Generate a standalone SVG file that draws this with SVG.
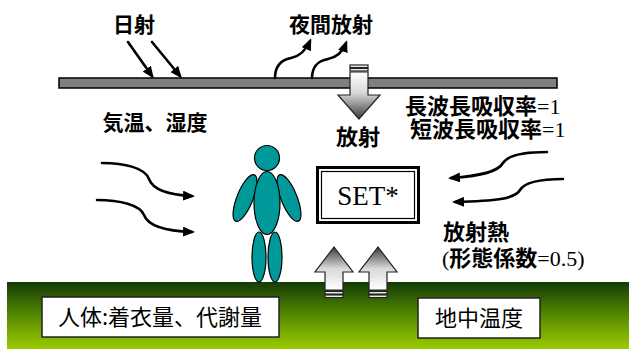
<svg xmlns="http://www.w3.org/2000/svg" width="629" height="349" viewBox="0 0 629 349">
  <style>
    .lbl { font-family: "Noto Sans CJK JP", "Noto Sans", sans-serif; font-weight: bold; fill: #000; }
    .reg { font-family: "Noto Sans CJK JP", "Noto Sans", sans-serif; font-weight: normal; fill: #000; }
    .ser { font-family: "Liberation Serif", "Times New Roman", serif; }
    .flow { fill: none; stroke: #000; stroke-width: 2.6; stroke-linecap: round; marker-end: url(#head); }
    .body { fill: #009999; stroke: #000; stroke-width: 1.2; }
    .box { fill: #fff; stroke: #222; stroke-width: 1.5; }
    .block { stroke: #222; stroke-width: 1.2; }
  </style>
  <defs>
    <marker id="head" markerUnits="userSpaceOnUse" viewBox="0 0 12 10" markerWidth="12" markerHeight="10" refX="9" refY="5" orient="auto">
      <path d="M0,0 L12,5 L0,10 z" fill="#000"/>
    </marker>
    <linearGradient id="ground" x1="0" y1="0" x2="0" y2="1">
      <stop offset="0" stop-color="#143a08"/>
      <stop offset="0.45" stop-color="#4f8300"/>
      <stop offset="1" stop-color="#9acc00"/>
    </linearGradient>
    <linearGradient id="down" x1="0" y1="0" x2="0" y2="1">
      <stop offset="0" stop-color="#ffffff"/>
      <stop offset="0.45" stop-color="#d8d8d8"/>
      <stop offset="1" stop-color="#3a3a3a"/>
    </linearGradient>
    <linearGradient id="up" x1="0" y1="0" x2="0" y2="1">
      <stop offset="0" stop-color="#3a3a3a"/>
      <stop offset="0.5" stop-color="#d8d8d8"/>
      <stop offset="1" stop-color="#ffffff"/>
    </linearGradient>
  </defs>

  <!-- ground -->
  <g id="ground-layer">
    <rect x="7" y="282" width="622" height="67" fill="url(#ground)"/>
  </g>

  <!-- roof plate -->
  <g id="roof">
    <rect x="59" y="78" width="498" height="10" fill="#808080" stroke="#000" stroke-width="1.5"/>
  </g>

  <!-- connectors -->
  <g id="connectors">
    <!-- solar radiation -->
    <path class="flow" d="M128,42 L152,76"/>
    <path class="flow" d="M152,42 L180,76"/>
    <!-- night radiation -->
    <path class="flow" d="M275,78 C275,66 281,60 291,58 C301,56 306,50 310,41"/>
    <path class="flow" d="M312,78 C312,66 318,61 328,59 C338,57 343,51 346,43"/>
    <!-- air temperature / humidity -->
    <path class="flow" d="M102,163 C125,163 145,168 149,179 C153,190 170,195 192,196"/>
    <path class="flow" d="M97,200 C120,200 140,205 144,215 C148,226 165,231 192,232"/>
    <!-- radiant heat -->
    <path class="flow" d="M547,152 C525,152 508,155 503,163 C498,172 480,176 451,178"/>
    <path class="flow" d="M563,179 C540,179 525,182 520,190 C515,199 495,201 455,202"/>
  </g>

  <!-- downward radiation block arrow -->
  <g id="down-arrow" class="block">
    <rect x="350" y="65" width="18" height="2.5" fill="#fff"/>
    <rect x="350" y="68.5" width="18" height="2.5" fill="#fff"/>
    <path d="M350,72 L368,72 L368,95 L380,95 L359,119 L338,95 L350,95 z" fill="url(#down)"/>
  </g>

  <!-- upward ground block arrows -->
  <g id="up-arrow-1" class="block">
    <path d="M325,290 L325,272 L315,272 L334,247 L353,272 L343,272 L343,290 z" fill="url(#up)"/>
    <rect x="325" y="291.5" width="18" height="2.5" fill="#fff"/>
    <rect x="325" y="295" width="18" height="2.5" fill="#fff"/>
  </g>
  <g id="up-arrow-2" class="block">
    <path d="M369,290 L369,272 L359,272 L378,247 L397,272 L387,272 L387,290 z" fill="url(#up)"/>
    <rect x="369" y="291.5" width="18" height="2.5" fill="#fff"/>
    <rect x="369" y="295" width="18" height="2.5" fill="#fff"/>
  </g>

  <!-- text labels -->
  <g id="label-solar"><text class="lbl" x="134" y="32" font-size="21" text-anchor="middle">日射</text></g>
  <g id="label-night"><text class="lbl" x="331" y="32" font-size="21" text-anchor="middle">夜間放射</text></g>
  <g id="label-air"><text class="lbl" x="155" y="130" font-size="21" text-anchor="middle">気温、湿度</text></g>
  <g id="label-rad"><text class="lbl" x="358" y="145" font-size="22" text-anchor="middle">放射</text></g>
  <g id="label-absorb">
    <text class="lbl" x="405" y="114" font-size="22">長波長吸収率<tspan class="ser" font-weight="normal">=1</tspan></text>
    <text class="lbl" x="410" y="137" font-size="22">短波長吸収率<tspan class="ser" font-weight="normal">=1</tspan></text>
  </g>
  <g id="label-heat">
    <text class="lbl" x="443" y="240" font-size="22">放射熱</text>
    <text class="lbl" x="442" y="266" font-size="22"><tspan class="ser" font-weight="normal">(</tspan>形態係数<tspan class="ser" font-weight="normal">=0.5)</tspan></text>
  </g>

  <!-- SET* index -->
  <g id="set-box">
    <rect x="317.5" y="167.5" width="101" height="55" fill="#fff" stroke="#000" stroke-width="3"/>
    <rect x="321.5" y="171.5" width="93" height="47" fill="none" stroke="#000" stroke-width="1.2"/>
    <text class="ser" x="368" y="205" font-size="27" text-anchor="middle" fill="#000">SET*</text>
  </g>

  <!-- human body -->
  <g id="human">
    <ellipse class="body" cx="245" cy="198" rx="8" ry="25" transform="rotate(22 245 198)"/>
    <ellipse class="body" cx="289" cy="198" rx="8" ry="25" transform="rotate(-22 289 198)"/>
    <ellipse class="body" cx="259" cy="257" rx="7" ry="25"/>
    <ellipse class="body" cx="275" cy="257" rx="7" ry="25"/>
    <ellipse class="body" cx="267" cy="203" rx="13" ry="31.5"/>
    <circle class="body" cx="267" cy="158" r="12.5"/>
  </g>

  <!-- bottom info boxes -->
  <g id="box-human">
    <rect class="box" x="42" y="297" width="237" height="40"/>
    <text class="reg" x="160" y="325" font-size="22" text-anchor="middle">人体:着衣量、代謝量</text>
  </g>
  <g id="box-ground">
    <rect class="box" x="418" y="298" width="122" height="40"/>
    <text class="reg" x="479" y="326" font-size="22" text-anchor="middle">地中温度</text>
  </g>
</svg>
